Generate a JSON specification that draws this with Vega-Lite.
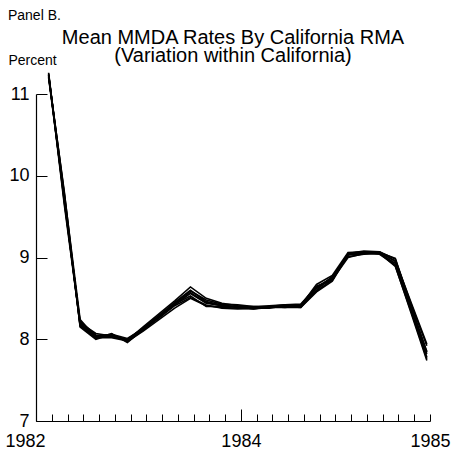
{
 "$schema": "https://vega.github.io/schema/vega-lite/v6.json",
 "width": 394, "height": 327,
 "autosize": {"type": "none"},
 "padding": {"left": 36, "top": 94, "right": 22, "bottom": 34},
 "background": "white",
 "title": {"text": ["Mean MMDA Rates By California RMA", "(Variation within California)"], "font": "Liberation Sans", "fontSize": 20, "fontWeight": "normal", "color": "black", "anchor": "middle", "offset": 0, "dy": 57, "lineHeight": 17.5},
 "config": {"view": {"stroke": null}},
 "layer": [
  {
   "data": {"values": [
    {"m": 0.8, "s1": 11.23, "s2": 11.26, "s3": 11.21, "s4": 11.24, "s5": 11.22, "s6": 11.25, "s7": 11.23, "s8": 11.20},
    {"m": 1.8, "s1": 9.72, "s2": 9.67, "s3": 9.80, "s4": 9.69, "s5": 9.76, "s6": 9.64, "s7": 9.78, "s8": 9.72},
    {"m": 2.8, "s1": 8.18, "s2": 8.22, "s3": 8.15, "s4": 8.20, "s5": 8.17, "s6": 8.19, "s7": 8.24, "s8": 8.16},
    {"m": 3.8, "s1": 8.03, "s2": 8.05, "s3": 8.00, "s4": 8.07, "s5": 8.01, "s6": 8.04, "s7": 8.02, "s8": 8.04},
    {"m": 4.8, "s1": 8.05, "s2": 8.03, "s3": 8.06, "s4": 8.04, "s5": 8.07, "s6": 8.05, "s7": 8.02, "s8": 8.06},
    {"m": 5.8, "s1": 7.98, "s2": 7.99, "s3": 7.97, "s4": 8.00, "s5": 7.96, "s6": 7.99, "s7": 7.98, "s8": 8.01},
    {"m": 6.8, "s1": 8.12, "s2": 8.15, "s3": 8.10, "s4": 8.13, "s5": 8.12, "s6": 8.14, "s7": 8.11, "s8": 8.13},
    {"m": 7.8, "s1": 8.27, "s2": 8.31, "s3": 8.24, "s4": 8.28, "s5": 8.26, "s6": 8.29, "s7": 8.27, "s8": 8.29},
    {"m": 8.8, "s1": 8.42, "s2": 8.47, "s3": 8.38, "s4": 8.44, "s5": 8.41, "s6": 8.45, "s7": 8.43, "s8": 8.43},
    {"m": 9.8, "s1": 8.56, "s2": 8.64, "s3": 8.50, "s4": 8.59, "s5": 8.51, "s6": 8.60, "s7": 8.53, "s8": 8.57},
    {"m": 10.8, "s1": 8.44, "s2": 8.50, "s3": 8.41, "s4": 8.48, "s5": 8.42, "s6": 8.46, "s7": 8.40, "s8": 8.45},
    {"m": 11.8, "s1": 8.41, "s2": 8.44, "s3": 8.39, "s4": 8.43, "s5": 8.38, "s6": 8.42, "s7": 8.40, "s8": 8.41},
    {"m": 12.8, "s1": 8.39, "s2": 8.41, "s3": 8.38, "s4": 8.42, "s5": 8.37, "s6": 8.39, "s7": 8.40, "s8": 8.40},
    {"m": 13.8, "s1": 8.38, "s2": 8.39, "s3": 8.37, "s4": 8.40, "s5": 8.38, "s6": 8.39, "s7": 8.37, "s8": 8.40},
    {"m": 14.8, "s1": 8.39, "s2": 8.39, "s3": 8.40, "s4": 8.40, "s5": 8.38, "s6": 8.41, "s7": 8.39, "s8": 8.40},
    {"m": 15.8, "s1": 8.40, "s2": 8.41, "s3": 8.40, "s4": 8.39, "s5": 8.41, "s6": 8.42, "s7": 8.39, "s8": 8.42},
    {"m": 16.8, "s1": 8.40, "s2": 8.42, "s3": 8.39, "s4": 8.41, "s5": 8.40, "s6": 8.41, "s7": 8.39, "s8": 8.43},
    {"m": 17.8, "s1": 8.62, "s2": 8.65, "s3": 8.60, "s4": 8.67, "s5": 8.59, "s6": 8.63, "s7": 8.58, "s8": 8.64},
    {"m": 18.8, "s1": 8.74, "s2": 8.72, "s3": 8.77, "s4": 8.78, "s5": 8.73, "s6": 8.76, "s7": 8.71, "s8": 8.75},
    {"m": 19.8, "s1": 9.03, "s2": 9.05, "s3": 9.01, "s4": 9.06, "s5": 9.00, "s6": 9.04, "s7": 9.03, "s8": 9.05},
    {"m": 20.8, "s1": 9.05, "s2": 9.08, "s3": 9.04, "s4": 9.07, "s5": 9.05, "s6": 9.06, "s7": 9.07, "s8": 9.07},
    {"m": 21.8, "s1": 9.05, "s2": 9.07, "s3": 9.05, "s4": 9.06, "s5": 9.06, "s6": 9.04, "s7": 9.06, "s8": 9.07},
    {"m": 22.8, "s1": 8.93, "s2": 8.98, "s3": 8.89, "s4": 8.96, "s5": 8.99, "s6": 8.91, "s7": 8.90, "s8": 8.95},
    {"m": 23.8, "s1": 8.37, "s2": 8.43, "s3": 8.34, "s4": 8.45, "s5": 8.39, "s6": 8.41, "s7": 8.32, "s8": 8.38},
    {"m": 24.8, "s1": 7.82, "s2": 7.92, "s3": 7.76, "s4": 7.94, "s5": 7.78, "s6": 7.85, "s7": 7.74, "s8": 7.84}
   ]},
   "transform": [{"fold": ["s1", "s2", "s3", "s4", "s5", "s6", "s7", "s8"], "as": ["rma", "rate"]}],
   "mark": {"type": "line", "color": "black", "strokeWidth": 1.6},
   "encoding": {
    "x": {"field": "m", "type": "quantitative", "scale": {"domain": [0, 25], "nice": false, "zero": false},
     "axis": {"values": [0,1,2,3,4,5,6,7,8,9,10,11,12,13,14,15,16,17,18,19,20,21,22,23,24,25],
      "labelExpr": "datum.value==0?'1982':datum.value==13?'1984':datum.value==25?'1985':''",
      "title": null, "grid": false,
      "tickSize": {"condition": {"test": "datum.value==13", "value": -12}, "value": -7},
      "tickColor": "black", "tickWidth": 1,
      "domainColor": "black", "domainWidth": 1.2,
      "labelFont": "Liberation Sans", "labelFontSize": 18, "labelColor": "black",
      "labelPadding": {"condition": {"test": "datum.value==13", "value": 23}, "value": 18},
      "labelOffset": {"condition": {"test": "datum.value==0", "value": -11}, "value": 0},
      "labelFlush": false, "labelOverlap": false, "labelBound": false}},
    "y": {"field": "rate", "type": "quantitative", "scale": {"domain": [7, 11], "nice": false, "zero": false},
     "axis": {"values": [7, 8, 9, 10, 11], "format": "d",
      "title": "Percent", "titleAngle": 0, "titleX": -28, "titleY": -34, "titleAlign": "left", "titleBaseline": "middle",
      "titleFont": "Liberation Sans", "titleFontSize": 14, "titleFontWeight": "normal", "titleColor": "black",
      "grid": false, "tickSize": -11, "tickColor": "black", "tickWidth": 1,
      "domainColor": "black", "domainWidth": 1.2,
      "labelFont": "Liberation Sans", "labelFontSize": 18, "labelColor": "black", "labelPadding": 18}},
    "detail": {"field": "rma"}
   }
  },
  {
   "data": {"values": [{"label": "Panel B."}]},
   "mark": {"type": "text", "align": "left", "baseline": "middle", "font": "Liberation Sans", "fontSize": 14, "color": "black"},
   "encoding": {
    "x": {"datum": -1.78, "type": "quantitative",
     "axis": {"values": [0,1,2,3,4,5,6,7,8,9,10,11,12,13,14,15,16,17,18,19,20,21,22,23,24,25],
      "labelExpr": "datum.value==0?'1982':datum.value==13?'1984':datum.value==25?'1985':''",
      "title": null, "grid": false,
      "tickSize": {"condition": {"test": "datum.value==13", "value": -12}, "value": -7},
      "tickColor": "black", "tickWidth": 1,
      "domainColor": "black", "domainWidth": 1.2,
      "labelFont": "Liberation Sans", "labelFontSize": 18, "labelColor": "black",
      "labelPadding": {"condition": {"test": "datum.value==13", "value": 23}, "value": 18},
      "labelOffset": {"condition": {"test": "datum.value==0", "value": -11}, "value": 0},
      "labelFlush": false, "labelOverlap": false, "labelBound": false}},
    "y": {"datum": 11.955, "type": "quantitative",
     "axis": {"values": [7, 8, 9, 10, 11], "format": "d",
      "title": "Percent", "titleAngle": 0, "titleX": -28, "titleY": -34, "titleAlign": "left", "titleBaseline": "middle",
      "titleFont": "Liberation Sans", "titleFontSize": 14, "titleFontWeight": "normal", "titleColor": "black",
      "grid": false, "tickSize": -11, "tickColor": "black", "tickWidth": 1,
      "domainColor": "black", "domainWidth": 1.2,
      "labelFont": "Liberation Sans", "labelFontSize": 18, "labelColor": "black", "labelPadding": 18}},
    "text": {"field": "label"}
   }
  }
 ]
}
